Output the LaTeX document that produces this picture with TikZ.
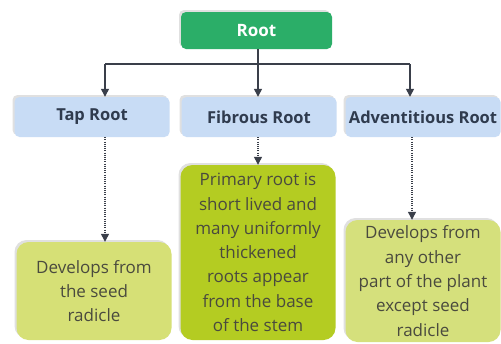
\documentclass[tikz,border=0pt]{standalone}
\usepackage{fontspec}
\setmainfont{Open Sans}
\usetikzlibrary{arrows.meta}
\definecolor{rootgreen}{HTML}{2BAE68}
\definecolor{headblue}{HTML}{C8DCF5}
\definecolor{descA}{HTML}{D6E076}
\definecolor{descB}{HTML}{B4CC22}
\definecolor{descC}{HTML}{D5E07C}
\definecolor{headtext}{HTML}{2F3B4E}
\definecolor{desctext}{HTML}{4A4A3E}
\definecolor{linecol}{HTML}{3A3F4A}
\tikzset{
  box/.style={rounded corners=5pt, inner sep=0pt, align=center},
  rootbox/.style={box, fill=rootgreen, text=white, font=\fontsize{17}{19}\selectfont\bfseries, minimum width=151pt, minimum height=37pt},
  headbox/.style={box, fill=headblue, text=headtext, font=\fontsize{16.5}{19}\selectfont\bfseries, minimum width=155pt, minimum height=40pt},
  descbox/.style={box, text=desctext, font=\fontsize{17}{24.3}\selectfont, rounded corners=12pt, minimum width=155pt},
  conn/.style={linecol, line width=1.3pt, -{Triangle[length=8pt,width=8pt]}},
  dotconn/.style={linecol, line width=1.2pt, dash pattern=on 1pt off 1.2pt, -{Triangle[length=8pt,width=8pt]}},
  shadowed/.style={preaction={fill=black!12, transform canvas={shift={(-2pt,2pt)}}}}
}
\begin{document}
\begin{tikzpicture}[x=1pt,y=-1pt]
\useasboundingbox[fill=white] (0,0) rectangle (501,343);
\node[rootbox, shadowed] (root) at (256.5,30.5) {Root};
\node[headbox, shadowed] (tap) at (92,117) {Tap Root};
\node[headbox, shadowed] (fib) at (259,117) {Fibrous Root};
\node[headbox, shadowed] (adv) at (423,117) {Adventitious Root};
\node[descbox, shadowed, fill=descA, minimum height=98pt] (tapd) at (94,291) {Develops from\\the seed\\radicle};
\node[descbox, shadowed, fill=descB, minimum height=175pt] (fibd) at (258,252.5) {Primary root is\\short lived and\\many uniformly\\thickened\\roots appear\\from the base\\of the stem};
\node[descbox, shadowed, fill=descC, minimum height=122pt] (advd) at (423,281) {Develops from\\any other\\part of the plant\\except seed\\radicle};
\coordinate (hl) at (105,64);
\coordinate (hr) at (410,64);
\draw[linecol, line width=1.3pt] (hl) -- (hr);
\draw[conn] (root.south -| 258,0) -- (fib.north -| 258,0);
\draw[conn] (hl) -- (hl |- tap.north);
\draw[conn] (hr) -- (hr |- adv.north);
\draw[dotconn] (tap.south -| 105,0) -- (tapd.north -| 105,0);
\draw[dotconn] (fib.south -| 258,0) -- (fibd.north -| 258,0);
\draw[dotconn] (adv.south -| 412,0) -- (advd.north -| 412,0);
\end{tikzpicture}
\end{document}
